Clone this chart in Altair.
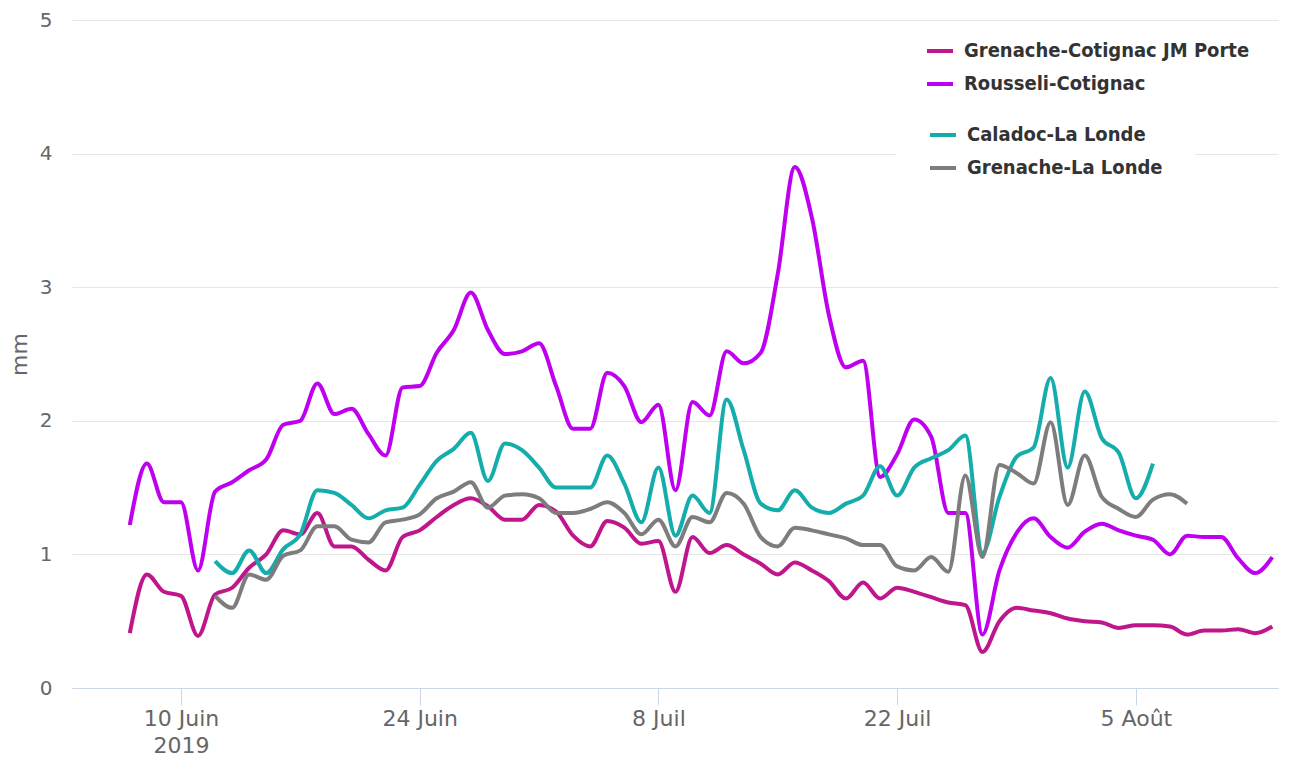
import json
import altair as alt
import pandas as pd

# ---------------- data ----------------
cotignac_start = "2019-06-07"
londe_start = "2019-06-12"

names_cotignac = ["Grenache-Cotignac JM Porte", "Rousseli-Cotignac"]
names_londe = ["Caladoc-La Londe", "Grenache-La Londe"]
colors_cotignac = ["#c0168c", "#bf00f0"]
colors_londe = ["#14adab", "#7d7d7d"]

grenache_cotignac = [
    0.41, 0.85, 0.72, 0.69, 0.39, 0.70, 0.75, 0.90, 1.00, 1.18,
    1.15, 1.31, 1.06, 1.06, 0.96, 0.88, 1.13, 1.18, 1.28, 1.37,
    1.42, 1.36, 1.26, 1.26, 1.37, 1.32, 1.14, 1.06, 1.25, 1.20,
    1.08, 1.10, 0.72, 1.13, 1.01, 1.07, 1.00, 0.93, 0.85, 0.94,
    0.88, 0.80, 0.67, 0.79, 0.67, 0.75, 0.72, 0.68, 0.64, 0.62,
    0.27, 0.50, 0.60, 0.58, 0.56, 0.52, 0.50, 0.49, 0.45, 0.47,
    0.47, 0.46, 0.40, 0.43, 0.43, 0.44, 0.41, 0.46,
]
rousseli_cotignac = [
    1.22, 1.68, 1.39, 1.39, 0.88, 1.47, 1.54, 1.63, 1.71, 1.97,
    2.00, 2.28, 2.05, 2.09, 1.90, 1.74, 2.25, 2.26, 2.51, 2.68,
    2.96, 2.68, 2.50, 2.52, 2.58, 2.26, 1.94, 1.94, 2.36, 2.26,
    1.99, 2.12, 1.48, 2.14, 2.04, 2.52, 2.43, 2.51, 3.10, 3.90,
    3.52, 2.79, 2.40, 2.45, 1.58, 1.75, 2.01, 1.88, 1.31, 1.31,
    0.40, 0.88, 1.16, 1.27, 1.13, 1.05, 1.17, 1.23, 1.18, 1.14,
    1.11, 1.00, 1.14, 1.13, 1.13, 0.97, 0.86, 0.98,
]
caladoc_londe = [
    0.95, 0.86, 1.03, 0.86, 1.04, 1.15, 1.48, 1.46, 1.37, 1.27,
    1.33, 1.35, 1.52, 1.70, 1.79, 1.91, 1.55, 1.83, 1.78, 1.65,
    1.50, 1.50, 1.50, 1.74, 1.53, 1.24, 1.65, 1.14, 1.44, 1.31,
    2.16, 1.78, 1.38, 1.33, 1.48, 1.35, 1.31, 1.38, 1.44, 1.66,
    1.44, 1.65, 1.72, 1.78, 1.89, 1.01, 1.43, 1.73, 1.80, 2.32,
    1.65, 2.22, 1.87, 1.76, 1.42, 1.68,
]
grenache_londe = [
    0.69, 0.60, 0.85, 0.81, 0.99, 1.03, 1.21, 1.21, 1.11, 1.09,
    1.24, 1.26, 1.30, 1.42, 1.47, 1.54, 1.35, 1.44, 1.45, 1.42,
    1.31, 1.31, 1.34, 1.39, 1.31, 1.15, 1.26, 1.06, 1.28, 1.24,
    1.46, 1.38, 1.13, 1.06, 1.20, 1.18, 1.15, 1.12, 1.07, 1.07,
    0.91, 0.88, 0.98, 0.87, 1.59, 0.98, 1.67, 1.61, 1.53, 1.99,
    1.37, 1.74, 1.43, 1.34, 1.28, 1.41, 1.45, 1.38,
]

tick_dates = [(2019, 6, 10), (2019, 6, 24), (2019, 7, 8), (2019, 7, 22), (2019, 8, 5)]
first_label = ["10 Juin", "2019"]
months_fr = ["Janv", "Févr", "Mars", "Avr", "Mai", "Juin", "Juil", "Août", "Sept", "Oct", "Nov", "Déc"]
y_ticks = [0, 1, 2, 3, 4, 5]
y_title = "mm"


def frame(start, series):
    rows = []
    for name, vals in series:
        dates = pd.date_range(start, periods=len(vals), freq="D").strftime("%Y-%m-%d")
        rows += [{"date": d, "value": v, "series": name} for d, v in zip(dates, vals)]
    return pd.DataFrame(rows)


df_cot = frame(cotignac_start, [(names_cotignac[0], grenache_cotignac), (names_cotignac[1], rousseli_cotignac)])
df_lon = frame(londe_start, [(names_londe[0], caladoc_londe), (names_londe[1], grenache_londe)])

label_expr = (
    "utcmonth(datum.value) == 5 && utcdate(datum.value) == 10 ? "
    + json.dumps(first_label, ensure_ascii=False)
    + " : utcdate(datum.value) + ' ' + "
    + json.dumps(months_fr, ensure_ascii=False)
    + "[utcmonth(datum.value)]"
)

x_enc = alt.X(
    "date:T",
    scale=alt.Scale(
        type="utc",
        domain=[
            alt.DateTime(year=2019, month=6, date=3, hours=14, minutes=40, utc=True),
            alt.DateTime(year=2019, month=8, date=13, hours=8, utc=True),
        ],
    ),
    axis=alt.Axis(
        values=[alt.DateTime(year=y, month=m, date=d, utc=True) for y, m, d in tick_dates],
        labelExpr=label_expr,
        title=None,
        grid=False,
        domainColor="#ccd6eb",
        domainWidth=1,
        tickColor="#ccd6eb",
        tickSize=17,
        tickWidth=1,
        labelPadding=3,
        labelFont="DejaVu Sans",
        labelFontSize=22,
        labelColor="#666666",
        labelLineHeight=27,
        labelBaseline="top",
    ),
)

y_enc = alt.Y(
    "value:Q",
    scale=alt.Scale(domain=[0, 5], nice=False, zero=True),
    axis=alt.Axis(
        values=y_ticks,
        title=y_title,
        grid=True,
        gridColor="#e6e6e6",
        gridWidth=1,
        domain=False,
        ticks=False,
        labelPadding=20,
        labelFont="DejaVu Sans",
        labelFontSize=20,
        labelColor="#666666",
        titleFont="DejaVu Sans",
        titleFontSize=22,
        titleFontWeight="normal",
        titleColor="#666666",
        titlePadding=8,
    ),
)

legend_common = dict(
    orient="none",
    title=None,
    symbolType="stroke",
    symbolSize=676,
    symbolStrokeWidth=4,
    labelFont="DejaVu Sans Condensed",
    labelFontWeight="bold",
    labelFontSize=20,
    labelColor="#333333",
    labelOffset=9,
    labelLimit=1000,
    rowPadding=8,
    fillColor="white",
)

line_cot = alt.Chart(df_cot).mark_line(strokeWidth=4, interpolate="monotone").encode(
    x=x_enc,
    y=y_enc,
    color=alt.Color(
        "series:N",
        scale=alt.Scale(domain=names_cotignac, range=colors_cotignac),
        legend=alt.Legend(legendX=845, legendY=8, padding=8, zindex=3, **legend_common),
    ),
)

line_lon = alt.Chart(df_lon).mark_line(strokeWidth=4, interpolate="monotone").encode(
    x=x_enc,
    y=y_enc,
    color=alt.Color(
        "series:N",
        scale=alt.Scale(domain=names_londe, range=colors_londe),
        legend=alt.Legend(legendX=824, legendY=68, padding=32, zindex=2, **legend_common),
    ),
)

chart = (
    alt.layer(line_cot, line_lon)
    .resolve_scale(color="independent")
    .properties(
        width=1206,
        height=668,
        autosize=alt.AutoSizeParams(type="none"),
        padding={"left": 64, "top": 12, "right": 20, "bottom": 69},
        background="white",
    )
    .configure_view(stroke=None)
)

chart.save("out.html", embed_options={"renderer": "svg", "actions": False})
